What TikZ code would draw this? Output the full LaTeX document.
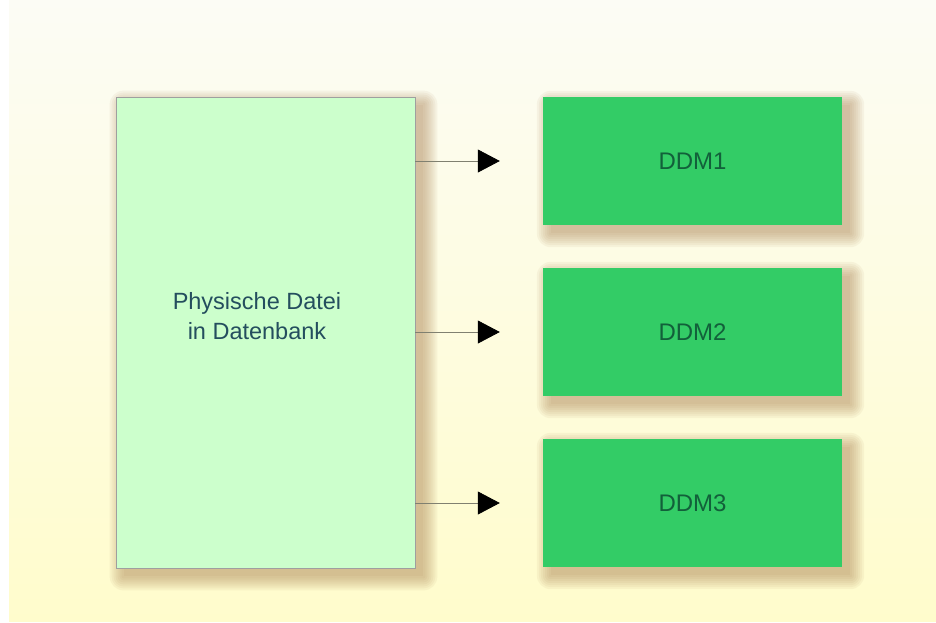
\documentclass[tikz,border=0pt]{standalone}
\usepackage{fontspec}
\setmainfont{Liberation Sans}
\usetikzlibrary{arrows.meta,backgrounds}
\definecolor{bgtop}{HTML}{FCFCF5}
\definecolor{bgbot}{HTML}{FFFCCC}
\definecolor{filebox}{HTML}{CCFFCC}
\definecolor{ddmgreen}{HTML}{33CC66}
\definecolor{txtblue}{HTML}{244E5E}
\definecolor{ddmtxt}{HTML}{12603A}
\definecolor{shadowtan}{HTML}{A88050}
\definecolor{linegray}{HTML}{808070}
\begin{document}
\begin{tikzpicture}[x=1pt,y=-1pt,
  filestyle/.style={draw=gray!75, line width=0.8pt, fill=filebox, minimum width=299pt, minimum height=471pt, inner sep=0pt},
  ddmstyle/.style={fill=ddmgreen, minimum width=299pt, minimum height=128pt, inner sep=0pt, text=ddmtxt, font=\fontsize{24}{28}\selectfont},
  labelstyle/.style={text=txtblue, align=center, font=\fontsize{23.5}{30}\selectfont},
  conn/.style={linegray, line width=0.8pt, -{Triangle[length=22pt,width=23pt,color=black]}, shorten >=43pt}
]
\useasboundingbox (0,0) rectangle (936,622);
\node[filestyle] (file) at (265.5,332.5) {};
\node[labelstyle] (filetext) at (257,316) {Physische Datei\\in Datenbank};
\node[ddmstyle] (ddm1) at (692.5,161) {DDM1};
\node[ddmstyle] (ddm2) at (692.5,332) {DDM2};
\node[ddmstyle] (ddm3) at (692.5,503) {DDM3};
\draw[conn] (file.east |- ddm1.west) -- (ddm1.west);
\draw[conn] (file.east |- ddm2.west) -- (ddm2.west);
\draw[conn] (file.east |- ddm3.west) -- (ddm3.west);
\begin{scope}[on background layer]
  \fill[white] (0,0) rectangle (936,622);
  \shade[top color=bgtop, bottom color=bgbot] (9,0) rectangle (936,621);
  \foreach \n in {file,ddm1,ddm2,ddm3}{
    \foreach \r in {0,2,...,14}{
      \fill[shadowtan, opacity=0.075, rounded corners=\r pt]
        ([shift={(8-\r,8-\r)}]\n.north west) rectangle ([shift={(8+\r,8+\r)}]\n.south east);
    }
  }
\end{scope}
\end{tikzpicture}
\end{document}
